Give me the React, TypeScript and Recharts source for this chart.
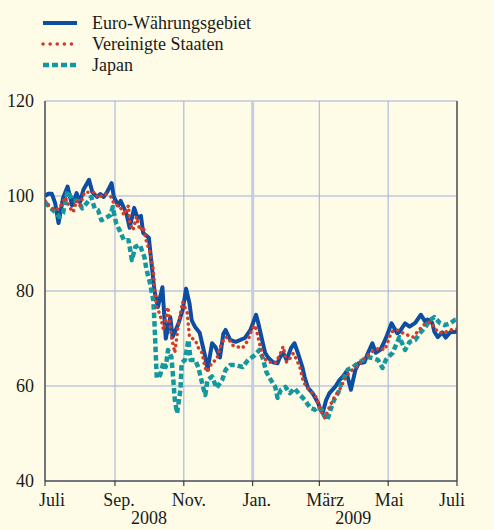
import { LineChart, Line, XAxis, YAxis, CartesianGrid, ReferenceLine } from 'recharts';

// days since 1 July 2008, index values (Juli 2008 = 100)
const MONTH_TICKS = [0, 62, 123, 184, 243, 304, 365];
const MONTH_LABELS = ['Juli', 'Sep.', 'Nov.', 'Jan.', 'März', 'Mai', 'Juli'];
// year label drawn under the tick with this index, centred between it and the next tick
const YEAR_AT: Record<number, string> = { 1: '2008', 4: '2009' };
const YEAR_BREAK = 184;
const Y_TICKS = [40, 60, 80, 100, 120];

const euro: [number, number][] = [
  [0, 100], [3, 100.5], [6, 100.5], [9, 98.5], [12, 94.3], [16, 99.6], [20, 102], [24, 98],
  [28, 100.6], [31, 98.7], [34, 101.3], [39, 103.4], [42, 100.8], [46, 99.8], [49, 100.4],
  [52, 99.8], [55, 100.8], [59, 102.7], [61, 99.8], [65, 98], [67, 99], [72, 96.4], [75, 93.3],
  [79, 97.5], [82, 95.4], [85, 95.8], [87, 92.2], [92, 91.2], [95, 84.4], [97, 80], [100, 76.6],
  [104, 80.8], [107, 70], [111, 74.5], [113, 70.3], [118, 73], [122, 76], [125, 80.5], [128, 77.4],
  [130, 73.8], [133, 72.4], [137, 71.2], [142, 66.1], [144, 63.4], [148, 69], [151, 68.2],
  [155, 66], [158, 71], [160, 71.8], [164, 69.7], [169, 69.3], [177, 70.1], [182, 71.8],
  [187, 75], [189, 73.2], [193, 69], [195, 67], [198, 65.9], [202, 65], [206, 64.8], [208, 66],
  [211, 67], [214, 65.5], [218, 68], [221, 69], [224, 67], [228, 64], [230, 61.9], [233, 59.6],
  [237, 58.5], [239, 57.7], [242, 56.4], [244, 55], [246, 54.3], [249, 57], [252, 58.5],
  [257, 59.8], [261, 61.3], [264, 62], [267, 63], [271, 59.2], [275, 63.4], [278, 64.8],
  [283, 65], [286, 66.9], [290, 69], [293, 67], [297, 67.6], [300, 69], [303, 70.7], [307, 73.2],
  [312, 71.1], [314, 71.4], [319, 73.2], [323, 72.5], [328, 73.3], [333, 75], [337, 73.5],
  [339, 74], [343, 73.3], [345, 71.4], [348, 70.3], [352, 71.3], [355, 70.2], [359, 71.3],
  [365, 71.4],
];

const usa: [number, number][] = [
  [0, 99], [4, 97.7], [9, 97], [13, 97.5], [18, 99.8], [22, 97.5], [25, 96.6], [28, 99], [31, 98],
  [35, 100.8], [40, 100.8], [44, 100.8], [47, 99.6], [51, 100.2], [54, 100.4], [58, 100],
  [61, 98.5], [64, 98], [66, 98], [70, 96], [74, 98], [75, 94.3], [78, 92.8], [81, 95.6],
  [84, 92.8], [87, 93.5], [90, 90.3], [93, 88.2], [96, 84.4], [97, 80.8], [99, 76.6], [102, 75],
  [105, 71.8], [109, 76.6], [112, 70.3], [115, 67], [118, 72.8], [122, 77.7], [126, 75.4],
  [128, 70.3], [133, 69.7], [136, 68], [139, 67], [142, 63.8], [144, 63], [148, 65], [152, 65.5],
  [155, 68], [159, 70.1], [162, 70.3], [166, 68.6], [170, 68.3], [175, 68], [180, 69.7],
  [183, 71.8], [186, 72.8], [188, 71.1], [190, 69], [193, 66.1], [198, 65], [201, 65],
  [204, 64.8], [208, 66.5], [211, 68.3], [214, 65], [217, 65.8], [220, 66.9], [223, 65.5],
  [226, 63.8], [229, 60.8], [233, 59.5], [237, 58.5], [240, 57.7], [244, 55], [248, 53.3],
  [252, 55.6], [256, 57.5], [261, 59.2], [266, 61.7], [270, 63], [275, 63.8], [279, 64.8],
  [283, 65.8], [288, 66.9], [292, 67.6], [297, 68], [301, 67.6], [307, 71.4], [312, 71.8],
  [319, 70.9], [326, 70.3], [330, 71.4], [335, 72.8], [341, 73.5], [348, 71.4], [353, 71.1],
  [359, 71.8], [365, 72],
];

const japan: [number, number][] = [
  [0, 98.7], [4, 97.7], [9, 96.6], [13, 95.6], [16, 96.4], [20, 101], [25, 99], [29, 99],
  [33, 97.4], [37, 98.5], [41, 99.8], [44, 97.4], [47, 97], [50, 94.9], [54, 95.4], [58, 96],
  [60, 97.7], [63, 94.3], [66, 92.8], [70, 90.7], [74, 90.7], [77, 86.5], [80, 89.3], [84, 89.7],
  [88, 87.2], [90, 84.4], [93, 81.7], [96, 78], [97, 73.2], [99, 61.7], [102, 62.3], [105, 65],
  [107, 64], [109, 67.6], [112, 66.1], [113, 63.4], [115, 57.1], [117, 54.3], [120, 59.2],
  [121, 64.8], [124, 65.5], [127, 69.7], [129, 65.5], [133, 65.5], [136, 63.8], [140, 59.8],
  [142, 58.1], [144, 61.3], [148, 62], [152, 59.6], [157, 61.3], [160, 63.4], [164, 64.4],
  [169, 64.4], [175, 64], [180, 65.5], [186, 66.5], [190, 67.6], [193, 65.8], [196, 63],
  [199, 61.7], [204, 59.8], [206, 57.5], [209, 59.2], [213, 59.8], [217, 58.5], [221, 59.5],
  [226, 58.1], [230, 57.1], [235, 55.4], [239, 55], [242, 55.6], [245, 55], [247, 53.9],
  [250, 52.8], [253, 55], [256, 57], [260, 58.7], [262, 60.2], [265, 61.7], [268, 63.4],
  [273, 64], [277, 64.8], [282, 65.5], [286, 66.1], [291, 65.8], [295, 65.5], [299, 63.8],
  [302, 65.5], [304, 66.1], [308, 67], [314, 70.3], [319, 67.6], [323, 69.3], [328, 69.7],
  [332, 71.1], [337, 72.4], [341, 73.9], [345, 74.5], [350, 73.2], [354, 72.8], [359, 73.2],
  [363, 73.9], [365, 74],
];

const BG = '#fefce6';
const FONT = 'Liberation Serif, serif';
const INK = '#1a1a1a';

const SERIES = [
  { key: 'euro', name: 'Euro-Währungsgebiet', points: euro, color: '#0d4ea3', width: 4, dash: undefined, cap: 'butt' },
  { key: 'japan', name: 'Japan', points: japan, color: '#14979e', width: 4.5, dash: '5.5 3', cap: 'butt' },
  { key: 'usa', name: 'Vereinigte Staaten', points: usa, color: '#d23a2b', width: 3.5, dash: '0.1 5.5', cap: 'round' },
];
const LEGEND_ORDER = ['euro', 'usa', 'japan'];

const toRows = (pts: [number, number][]) => pts.map(([day, value]) => ({ day, value }));

const LABEL_SHIFT = [7, 4, 5, 4, 6, 1, -5];

function MonthTick(props: any) {
  const { x, y, index } = props;
  const year = YEAR_AT[index];
  return (
    <g>
      <text x={x + LABEL_SHIFT[index]} y={y} dy="0.72em" textAnchor="middle"
        fontFamily={FONT} fontSize={18} fill={INK}>
        {MONTH_LABELS[index]}
      </text>
      {year && (
        <text x={x + 34} y={y + 18} dy="0.72em" textAnchor="middle"
          fontFamily={FONT} fontSize={18} fill={INK}>
          {year}
        </text>
      )}
    </g>
  );
}

function Legend() {
  return (
    <svg width={300} height={80} style={{ position: 'absolute', left: 0, top: 0 }}>
      {LEGEND_ORDER.map((k, i) => {
        const s = SERIES.find(d => d.key === k)!;
        const y = 23 + i * 21;
        return (
          <g key={k}>
            <line x1={43} x2={77} y1={y} y2={y} stroke={s.color} strokeWidth={s.width}
              strokeDasharray={s.key === 'usa' ? '0.1 7' : s.key === 'japan' ? '6 3' : undefined}
              strokeLinecap={s.cap as any} />
            <text x={92} y={y + 6} fontFamily={FONT} fontSize={18} fill={INK}>{s.name}</text>
          </g>
        );
      })}
    </svg>
  );
}

export default function App() {
  return (
    <div style={{ position: 'absolute', left: 0, top: 0, width: 494, height: 530, background: BG }}>
      <LineChart width={494} height={530} margin={{ top: 101, right: 0, bottom: 0, left: 0 }}>
        <CartesianGrid stroke="#9eaedc" strokeWidth={1} yAxisId="left" />
        <ReferenceLine x={YEAR_BREAK} yAxisId="left" stroke="#c4cbe2" strokeWidth={3} />
        <XAxis dataKey="day" type="number" domain={[0, 365]} ticks={MONTH_TICKS}
          allowDataOverflow height={49} stroke={INK} tickSize={5} tickMargin={7}
          tick={<MonthTick />} interval={0} />
        <YAxis yAxisId="left" domain={[40, 120]} ticks={Y_TICKS} width={45}
          stroke="#555" strokeWidth={1.5} tickLine={false} tickMargin={5} interval={0}
          tick={{ fontFamily: FONT, fontSize: 18, fill: INK }} />
        <YAxis yAxisId="right" orientation="right" domain={[40, 120]} ticks={Y_TICKS} width={37}
          stroke="#555" strokeWidth={1.5} tickLine={false} tickMargin={2} interval={0}
          tick={{ fontFamily: FONT, fontSize: 18, fill: INK, textAnchor: 'start' }} />
        {SERIES.map(s => (
          <Line key={s.key} yAxisId="left" data={toRows(s.points)} dataKey="value" name={s.name}
            type="linear" stroke={s.color} strokeWidth={s.width} strokeDasharray={s.dash}
            strokeLinecap={s.cap as any} strokeLinejoin="round" dot={false} activeDot={false}
            isAnimationActive={false} />
        ))}
      </LineChart>
      <Legend />
    </div>
  );
}
